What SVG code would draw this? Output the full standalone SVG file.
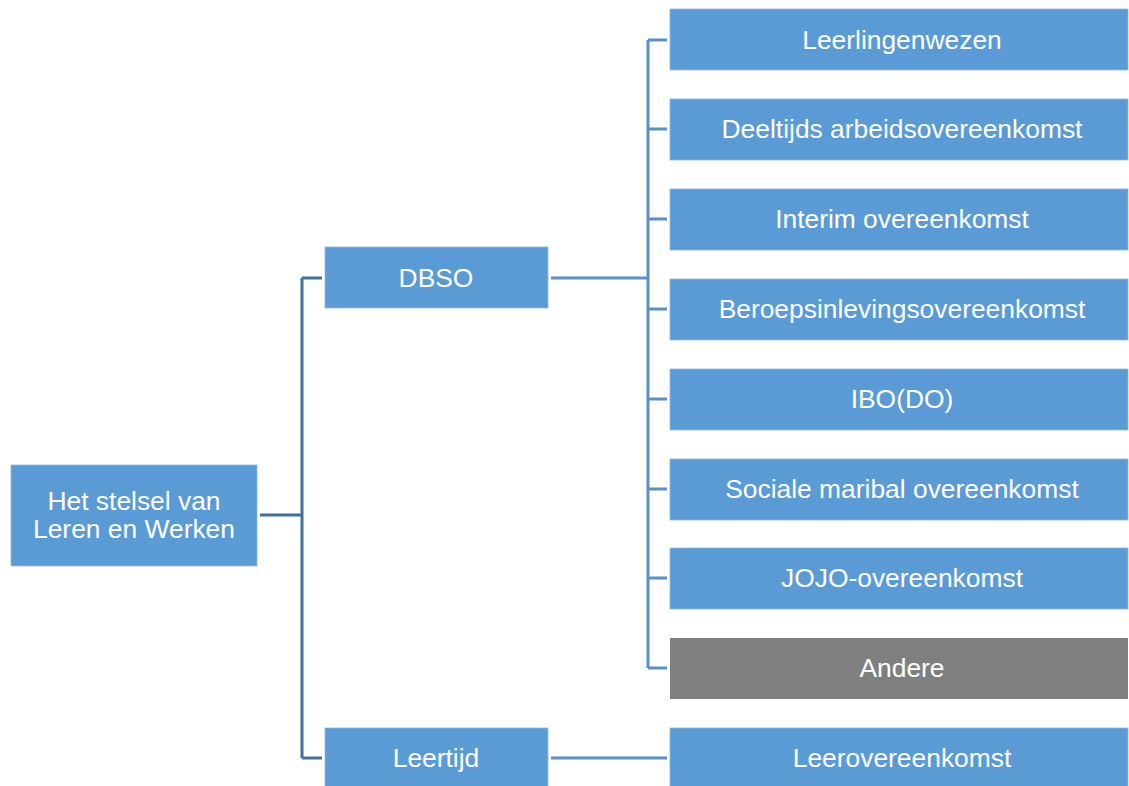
<svg xmlns="http://www.w3.org/2000/svg" width="1129" height="786" viewBox="0 0 1129 786">
<style>
.box{fill:#5B9BD5;stroke:#8DB8E2;stroke-width:0.8}
.grey{fill:#7F7F7F}
.t{font-family:"Liberation Sans",Arial,sans-serif;font-size:26.4px;fill:#ffffff;text-anchor:middle}
.c1{stroke:#41719C;stroke-width:3;fill:none}
.c2{stroke:#5B8FC8;stroke-width:3;fill:none}
</style>
<rect width="1129" height="786" fill="#ffffff"/>
<g id="connectors">
<path class="c1" d="M260 515 H302 M302 278 V758 M302 278 H322 M302 758 H322"/>
<path class="c2" d="M551 278 H648 M648 40 V668 M648 40 H667 M648 129 H667 M648 219 H667 M648 309 H667 M648 399 H667 M648 489 H667 M648 578 H667 M648 668 H667 M551 758 H667"/>
</g>
<g id="root"><rect class="box" x="11" y="465" width="246" height="101"/><text class="t" x="134" y="510">Het stelsel van</text><text class="t" x="134" y="538">Leren en Werken</text></g>
<g id="dbso"><rect class="box" x="325" y="247" width="223" height="61"/><text class="t" x="436" y="287">DBSO</text></g>
<g id="leertijd"><rect class="box" x="325" y="728" width="223" height="61"/><text class="t" x="436" y="767">Leertijd</text></g>
<g id="n1"><rect class="box" x="670" y="9" width="458" height="61"/><text class="t" x="902" y="49">Leerlingenwezen</text></g>
<g id="n2"><rect class="box" x="670" y="99" width="458" height="61"/><text class="t" x="902" y="138">Deeltijds arbeidsovereenkomst</text></g>
<g id="n3"><rect class="box" x="670" y="189" width="458" height="61"/><text class="t" x="902" y="228">Interim overeenkomst</text></g>
<g id="n4"><rect class="box" x="670" y="279" width="458" height="61"/><text class="t" x="902" y="318">Beroepsinlevingsovereenkomst</text></g>
<g id="n5"><rect class="box" x="670" y="369" width="458" height="61"/><text class="t" x="902" y="408">IBO(DO)</text></g>
<g id="n6"><rect class="box" x="670" y="459" width="458" height="61"/><text class="t" x="902" y="498">Sociale maribal overeenkomst</text></g>
<g id="n7"><rect class="box" x="670" y="548" width="458" height="61"/><text class="t" x="902" y="587">JOJO-overeenkomst</text></g>
<g id="n8"><rect class="grey" x="670" y="638" width="458" height="61"/><text class="t" x="902" y="677">Andere</text></g>
<g id="n9"><rect class="box" x="670" y="728" width="458" height="61"/><text class="t" x="902" y="767">Leerovereenkomst</text></g>
</svg>
